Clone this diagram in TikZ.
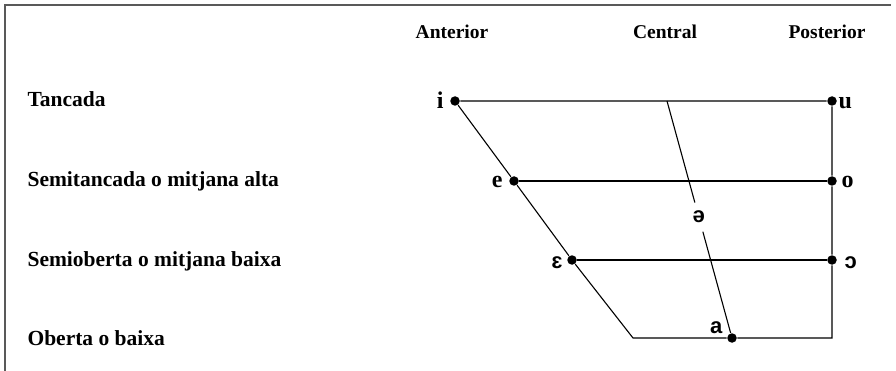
\documentclass[tikz,border=0pt]{standalone}
\usepackage{fontspec}
\setmainfont{Liberation Serif}
\newfontfamily\ipasans{Liberation Sans}
\usetikzlibrary{positioning,calc}
\tikzstyle{pt}=[circle, fill=black, inner sep=0pt, minimum size=9.5pt]
\tikzstyle{vl}=[inner sep=0pt, font=\fontsize{24}{26}\selectfont\bfseries]
\tikzstyle{vs}=[inner sep=0pt, font=\fontsize{22}{26}\selectfont\bfseries\ipasans]
\tikzstyle{row}=[inner sep=0pt, anchor=base west, font=\fontsize{21.5}{24}\selectfont\bfseries]
\tikzstyle{col}=[inner sep=0pt, anchor=base, font=\fontsize{19.5}{22}\selectfont\bfseries]

\begin{document}
\begin{tikzpicture}[x=1pt, y=-1pt, line width=1.1pt]
		\useasboundingbox (0,0) rectangle (896,371);
		\draw[black!65] (5,371) -- (5,5) -- (891,5);
		% columns and rows
		\node[col] (ant) at (452,39) {Anterior};
		\node[col] (cen) at (665,39) {Central};
		\node[col] (pos) at (827,39) {Posterior};
		\node[row] (r1) at (27,107) {Tancada};
		\node[row] (r2) at (27,187) {Semitancada o mitjana alta};
		\node[row] (r3) at (27,266) {Semioberta o mitjana baixa};
		\node[row] (r4) at (27,345) {Oberta o baixa};
		% vowels
		\node[pt] (i) at (455,101) {};
		\node[pt] (u) at (832,101) {};
		\node[pt] (e) at (514,181) {};
		\node[pt] (o) at (832,181) {};
		\node[pt] (eps) at (572,260) {};
		\node[pt] (opn) at (832,260) {};
		\node[pt] (a) at (732,338) {};
		\coordinate (bl) at (633,338);
		\coordinate (br) at (832,338);
		\coordinate (ct) at (667,101);
		\node[vl, anchor=base east] (li) at ($(i)+(-11,7.5)$) {i};
		\node[vl, anchor=base west] (lu) at ($(u)+(6,7.5)$) {u};
		\node[vl, anchor=base east] (le) at ($(e)+(-11,7)$) {e};
		\node[vl, anchor=base west] (lo) at ($(o)+(9,7)$) {o};
		\node[vs, anchor=base east] (leps) at ($(eps)+(-9,8)$) {ɛ};
		\node[vs, anchor=base west] (lopn) at ($(opn)+(12,8)$) {ɔ};
		\node[vs, anchor=base east] (la) at ($(a)+(-9,-5)$) {a};
		\node[vs, inner sep=8pt] (schwa) at ($(ct)!0.49!(a)$) {ə};
		\draw (i) -- (u) -- (o) -- (opn) -- (br) -- (a) -- (bl) -- (eps) -- (e) -- (i);
		\draw (e) -- (o);
		\draw (eps) -- (opn);
		\draw (ct) -- (schwa) -- (a);
	\end{tikzpicture}
\end{document}
